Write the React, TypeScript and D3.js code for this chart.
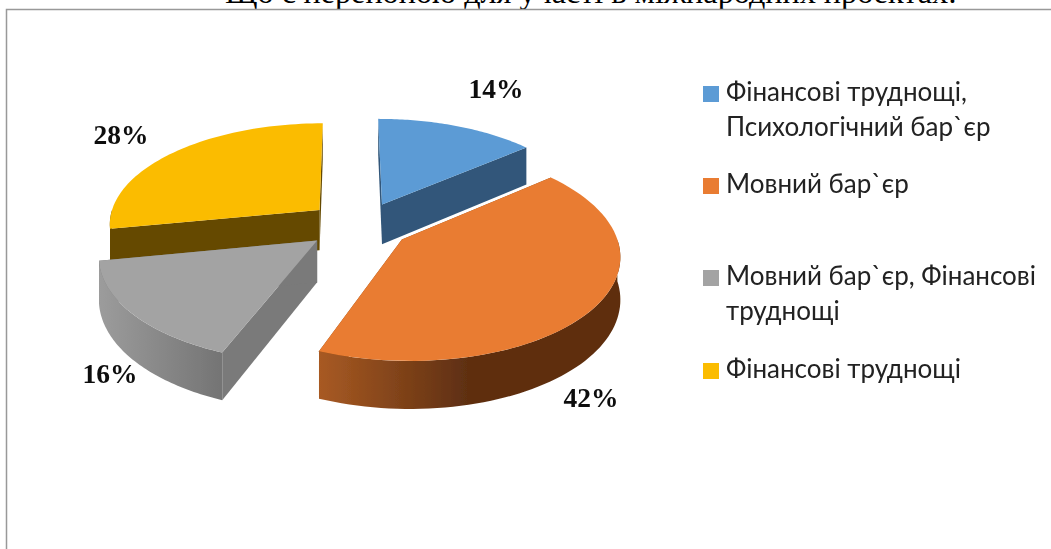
import React from 'react';
import * as d3 from 'd3';

const width = 1051;
const height = 549;

const title = 'Що є перепоною для участі в міжнародних проектах:';
const values = [14, 42, 16, 28];
const legendLines = [
  ['Фінансові труднощі,', 'Психологічний бар`єр'],
  ['Мовний бар`єр'],
  ['Мовний бар`єр, Фінансові', 'труднощі'],
  ['Фінансові труднощі'],
];
const topColors = ['#5b9bd5', '#e97c30', '#a3a3a3', '#fbbc00'];
const faceColors = ['#31577a', '#8a4719', '#7a7a7a', '#654a00'];
const wallStops = [
  ['#3a6890', '#31577a'],
  ['#a85a23', '#5e2f11', '#5e2f11'],
  ['#9c9c9c', '#747474'],
  ['#654a00', '#654a00'],
];
// how far each slice is pulled out of the pie (x and depth, in radii)
const explodeX = [0.165, 0.25, -0.143, -0.137];
const explodeZ = [0.223, -0.125, -0.135, 0.165];
const labelX = [496, 591, 110, 121];
const labelY = [98, 407, 383, 144];
const legendY = [101, 193, 285, 378];

// perspective projection of the pie plane onto the screen
const cx = 348;
const cy = 226.5;
const radiusX = 212;
const radiusY = 102;
const perspective = 0.13;
const thickness = 41;

const project = (wx: number, wz: number, drop = 0): [number, number] => {
  const s = 1 / (1 + perspective * wz);
  return [cx + radiusX * wx * s, cy - radiusY * wz * s + thickness * drop * s];
};

const line = d3.line();

const App = () => {
  const arcs = d3.pie<number>().sort(null)(values);

  const slices = arcs.map((a, i) => {
    const ox = explodeX[i];
    const oz = explodeZ[i];
    const rim = (t: number, drop = 0) => project(ox + Math.sin(t), oz + Math.cos(t), drop);
    const sweep = (a0: number, a1: number, drop = 0) =>
      d3.range(0, 61).map(k => rim(a0 + ((a1 - a0) * k) / 60, drop));
    const apex = project(ox, oz);
    const apexLow = project(ox, oz, 1);

    const top = line([apex, ...sweep(a.startAngle, a.endAngle)]) + 'Z';
    const face = (t: number) => line([apex, rim(t), rim(t, 1), apexLow]) + 'Z';

    // only the part of the rim turned towards the viewer gets a wall
    const w0 = Math.max(a.startAngle, Math.PI / 2);
    const w1 = Math.min(a.endAngle, (3 * Math.PI) / 2);
    const wall = w1 > w0
      ? line([...sweep(w0, w1), ...sweep(w0, w1, 1).reverse()]) + 'Z'
      : null;
    const x0 = w1 > w0 ? rim(w0)[0] : 0;
    const x1 = w1 > w0 ? rim(w1)[0] : 1;
    return { i, top, faces: [face(a.startAngle), face(a.endAngle)], wall, x0, x1 };
  });

  // back slices first
  const order = [3, 0, 2, 1];

  return (
    <svg
      width={width}
      height={height}
      viewBox={`0 0 ${width} ${height}`}
      style={{ position: 'absolute', left: 0, top: 0, background: '#fff' }}
    >
      <defs>
        <filter id="soft" x="-2%" y="-2%" width="104%" height="104%">
          <feGaussianBlur stdDeviation="0.45" />
        </filter>
        {slices.map(s => (
          <linearGradient
            key={s.i}
            id={`wall${s.i}`}
            gradientUnits="userSpaceOnUse"
            x1={Math.min(s.x0, s.x1)}
            x2={Math.max(s.x0, s.x1)}
            y1={0}
            y2={0}
          >
            {wallStops[s.i].map((c, k) => (
              <stop key={k} offset={k / (wallStops[s.i].length - 1)} stopColor={c} />
            ))}
          </linearGradient>
        ))}
      </defs>

      <text
        x={591}
        y={3}
        textAnchor="middle"
        fontFamily="'Liberation Serif'"
        fontSize={32.2}
        fill="#000"
      >
        {title}
      </text>

      <path d="M6.5,549V9.5H1051" fill="none" stroke="#999" strokeWidth={1.5} />

      <g filter="url(#soft)">
        {order.map(i => {
          const s = slices[i];
          return (
            <g key={i}>
              {s.faces.map((d, k) => (
                <path key={k} d={d} fill={faceColors[i]} />
              ))}
              {s.wall && <path d={s.wall} fill={`url(#wall${i})`} />}
              <path d={s.top} fill={topColors[i]} />
            </g>
          );
        })}

        {values.map((v, i) => (
          <text
            key={i}
            x={labelX[i]}
            y={labelY[i]}
            textAnchor="middle"
            fontFamily="'Liberation Serif'"
            fontWeight="bold"
            fontSize={27.5}
            fill="#111"
          >
            {v}%
          </text>
        ))}

        {legendLines.map((lines, i) => (
          <g key={i}>
            <rect x={703} y={legendY[i] - 15} width={16} height={16} fill={topColors[i]} />
            {lines.map((t, k) => (
              <text
                key={k}
                x={726}
                y={legendY[i] + k * 35}
                fontFamily="Lato, 'Noto Sans'"
                fontSize={26}
                fill="#222"
              >
                {t}
              </text>
            ))}
          </g>
        ))}
      </g>
    </svg>
  );
};

export default App;
